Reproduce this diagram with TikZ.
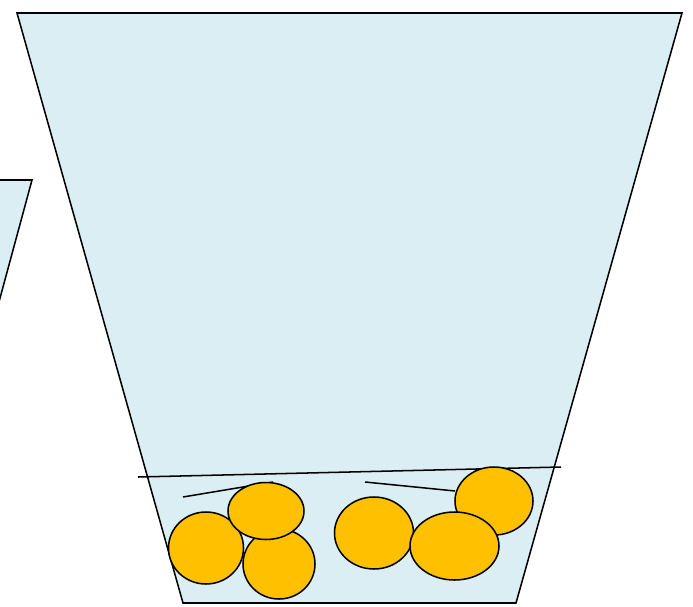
\documentclass[tikz,border=0pt]{standalone}
\usepackage{tikz}
\definecolor{waterblue}{HTML}{DAEEF3}
\definecolor{fruitorange}{HTML}{FFC000}

\begin{document}
\begin{tikzpicture}[
    x=0.03cm, y=-0.03cm,
    glass/.style={draw, fill=waterblue, line width=1.3pt, line join=miter},
    fruit/.style={draw, fill=fruitorange, line width=1.3pt},
    level/.style={line width=1.3pt}
  ]
    \useasboundingbox (0,0) rectangle (693,606);
    \clip (0,0) rectangle (693,606);

    % glasses
    \draw[glass] (-40,180) -- (32,180) -- (-20,372) -- cycle;
    \draw[glass] (17,13) -- (682,13) -- (516,603) -- (183,603) -- cycle;

    % surface and marks
    \draw[level] (138,477) -- (561,467);
    \draw[level] (183,497) -- (273,482);
    \draw[level] (365,482) -- (455,491);

    % fruits
    \draw[fruit] (279,564) ellipse [x radius=36, y radius=35];
    \draw[fruit] (206,548) ellipse [x radius=37.5, y radius=36];
    \draw[fruit] (266,511) ellipse [x radius=38, y radius=28.5];
    \draw[fruit] (374,533) ellipse [x radius=39.5, y radius=36];
    \draw[fruit] (494,501) ellipse [x radius=39, y radius=34];
    \draw[fruit] (454.5,546) ellipse [x radius=44.5, y radius=34];
  \end{tikzpicture}
\end{document}
